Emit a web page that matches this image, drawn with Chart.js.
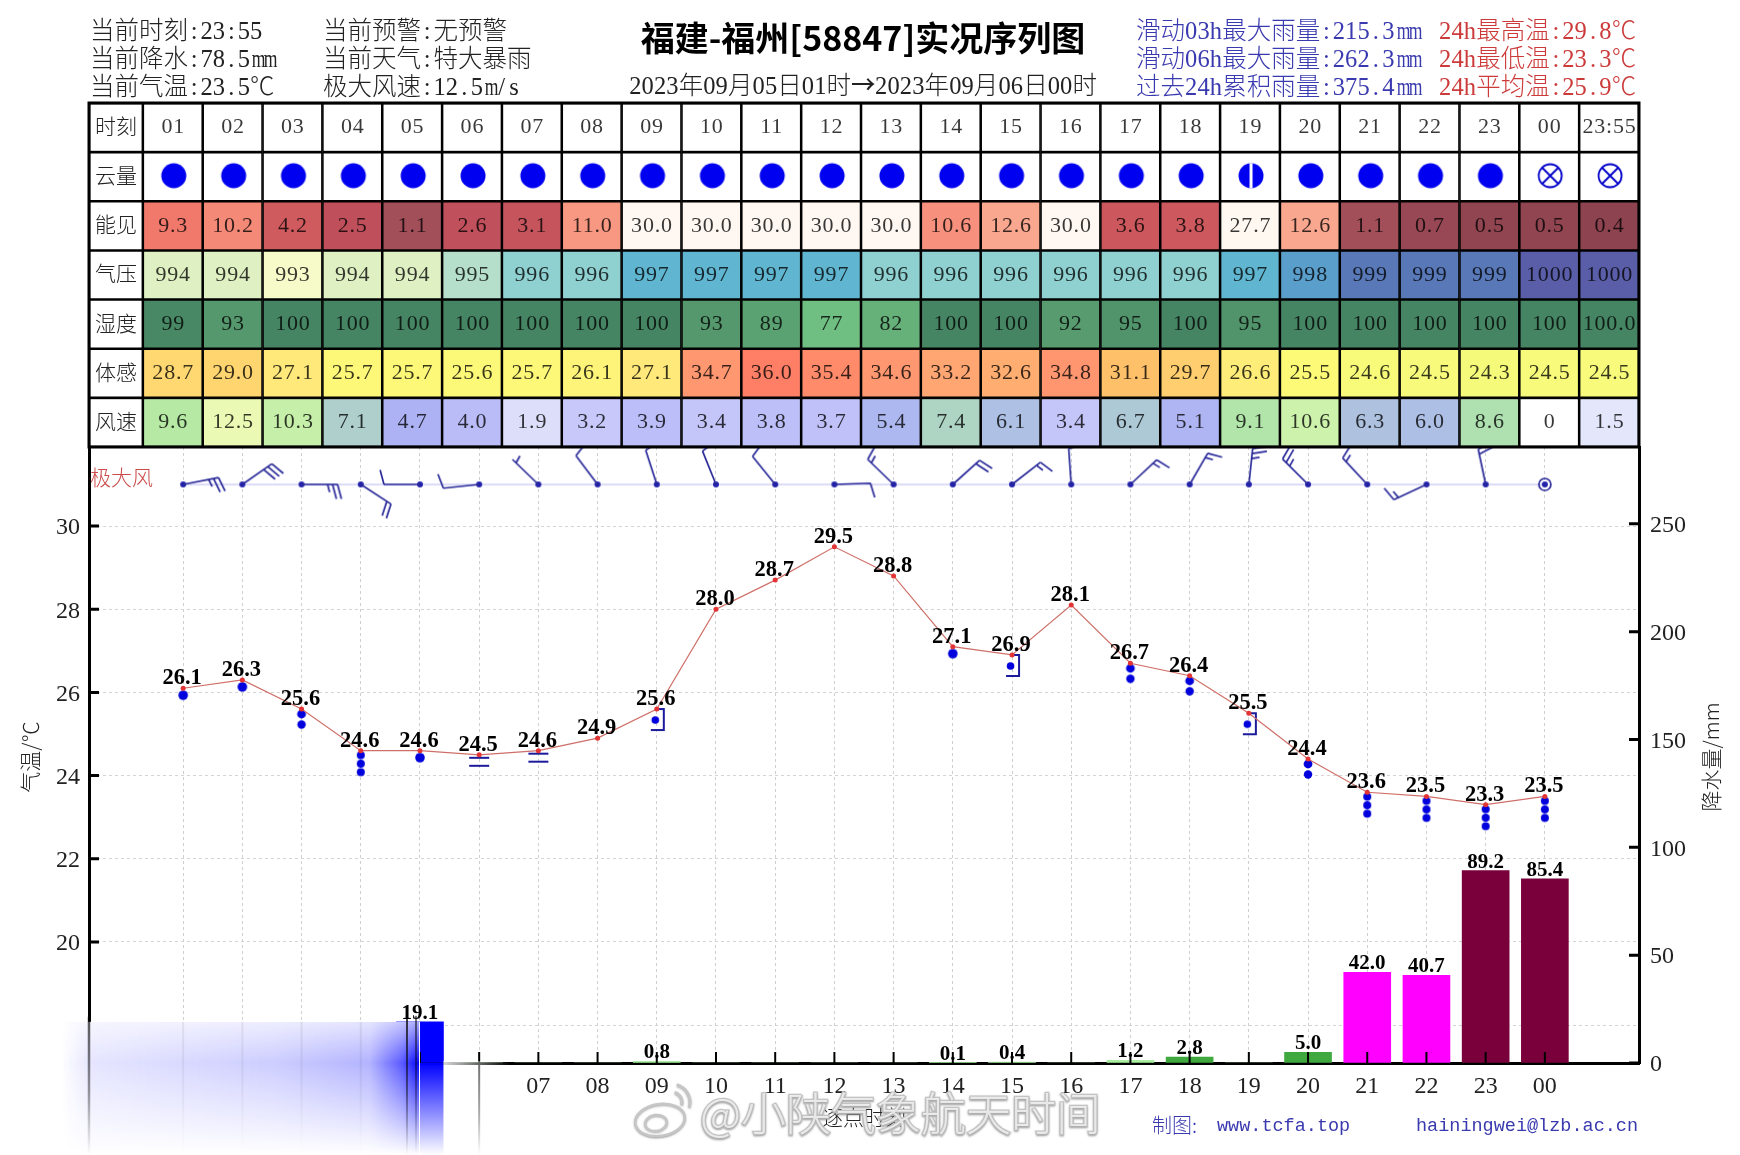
<!DOCTYPE html>
<html>
<head>
<meta charset="utf-8">
<title>福建-福州实况序列图</title>
<script src="https://cdn.jsdelivr.net/npm/chart.js@4"></script>
<style>
    html, body { margin: 0; padding: 0; background: #fff; }
    #page { position: relative; width: 1740px; height: 1155px; overflow: hidden; }
    #page canvas { position: absolute; left: 0; }
    #mainChart { top: 0; }
    #tableChart { top: 95px; }
    .head { position: absolute; white-space: nowrap; line-height: 30px; height: 30px;
            font-family: "Liberation Serif", "Noto Sans CJK SC"; font-size: 24.5px; font-weight: 300; }
    .head span { display: inline-block; width: 12.4px; text-align: center; }
    .head span.m { transform: scaleX(0.72); }
    .head span.arrow { width: 24px; font-family: "Noto Sans CJK SC"; font-weight: 500; }
</style>
</head>
<body>
<div id="page">
    <canvas id="mainChart" width="1740" height="1155"></canvas>
    <canvas id="tableChart" width="1740" height="360"></canvas>
</div>

<script>
// hourly chart
const hours = ['01','02','03','04','05','06','07','08','09','10','11','12','13','14','15','16','17','18','19','20','21','22','23','00'];
const tempValues = [26.1,26.3,25.6,24.6,24.6,24.5,24.6,24.9,25.6,28.0,28.7,29.5,28.8,27.1,26.9,28.1,26.7,26.4,25.5,24.4,23.6,23.5,23.3,23.5];
const rainValues = [0,0,0,0,19.1,0,0,0,0.8,0,0,0,0,0.1,0.4,0,1.2,2.8,0,5.0,42.0,40.7,89.2,85.4];
const weather = ['dot1','dot1','dot2','dot3','dot1','fog','fog','','shower','','','','','dot1','shower','','dot2','dot2','shower','dot2','dot3','dot3','dot3','dot3'];
const windDir = [79,55,90,123,270,264,314,323,342,338,321,88,314,48,52,356,47,30,6,315,317,245,348,null];

// table rows
const rowNames = ['时刻','云量','能见','气压','湿度','体感','风速'];
const timeRow = hours.concat(['23:55']);
const cloudRow = ['f','f','f','f','f','f','f','f','f','f','f','f','f','f','f','f','f','f','h','f','f','f','f','x','x'];
const visRow = ['9.3','10.2','4.2','2.5','1.1','2.6','3.1','11.0','30.0','30.0','30.0','30.0','30.0','10.6','12.6','30.0','3.6','3.8','27.7','12.6','1.1','0.7','0.5','0.5','0.4'];
const pressRow = ['994','994','993','994','994','995','996','996','997','997','997','997','996','996','996','996','996','996','997','998','999','999','999','1000','1000'];
const humRow = ['99','93','100','100','100','100','100','100','100','93','89','77','82','100','100','92','95','100','95','100','100','100','100','100','100.0'];
const feelRow = ['28.7','29.0','27.1','25.7','25.7','25.6','25.7','26.1','27.1','34.7','36.0','35.4','34.6','33.2','32.6','34.8','31.1','29.7','26.6','25.5','24.6','24.5','24.3','24.5','24.5'];
const windRow = ['9.6','12.5','10.3','7.1','4.7','4.0','1.9','3.2','3.9','3.4','3.8','3.7','5.4','7.4','6.1','3.4','6.7','5.1','9.1','10.6','6.3','6.0','8.6','0','1.5'];

// colour ramps for the table
const visStops = [[0.4,'#8e4350'],[1.1,'#a24f5a'],[2.5,'#bf4f5b'],[3.6,'#cc585e'],[4.2,'#d05b5f'],[9.3,'#f1796b'],[11,'#f99882'],[12.6,'#f9a78f'],[27.7,'#fff8f0'],[30,'#fff8f2']];
const pressStops = [[993,'#f6fbc9'],[994,'#dff0c2'],[995,'#b5dfca'],[996,'#8fd0d0'],[997,'#60b6d0'],[998,'#5a9ecb'],[999,'#5878b8'],[1000,'#5a5ea8']];
const humStops = [[77,'#6fbe82'],[82,'#66b07a'],[89,'#5ba273'],[93,'#55986d'],[100,'#468563']];
const feelStops = [[24.3,'#f6fa7a'],[25.5,'#fdfa78'],[27.1,'#ffe97a'],[29,'#ffd570'],[31.1,'#ffc06a'],[33.2,'#ffa672'],[34.8,'#ff9670'],[36,'#ff7f66']];
const windStops = [[0,'#ffffff'],[1.9,'#dddffa'],[3.2,'#c8c8fa'],[4.7,'#adb2f5'],[5.4,'#aeb8f0'],[6.3,'#aec2e0'],[7.4,'#aed4c4'],[8.6,'#aee0b0'],[9.6,'#b6eaa4'],[10.6,'#cdf2ac'],[12.5,'#eafab4']];

const serif = '"Liberation Serif"';
const cjk = '"Noto Sans CJK SC"';

const headLines = [
    ['当前时刻:23:55', 90, 31, '#222'], ['当前降水:78.5mm', 90, 59, '#222'], ['当前气温:23.5℃', 90, 87, '#222'],
    ['当前预警:无预警', 323, 31, '#222'], ['当前天气:特大暴雨', 323, 59, '#222'], ['极大风速:12.5m/s', 323, 87, '#222'],
    ['滑动03h最大雨量:215.3mm', 1136, 31, '#3a3ab0'], ['滑动06h最大雨量:262.3mm', 1136, 59, '#3a3ab0'], ['过去24h累积雨量:375.4mm', 1136, 87, '#3a3ab0'],
    ['24h最高温:29.8℃', 1439, 31, '#cc3a3a'], ['24h最低温:23.3℃', 1439, 59, '#cc3a3a'], ['24h平均温:25.9℃', 1439, 87, '#cc3a3a']
];

function hexToRgb(h) {
    return [parseInt(h.substr(1,2),16), parseInt(h.substr(3,2),16), parseInt(h.substr(5,2),16)];
}

function ramp(stops, v) {
    if (v <= stops[0][0]) return stops[0][1];
    for (let i = 1; i < stops.length; i++) {
        if (v <= stops[i][0]) {
            let t = (v - stops[i-1][0]) / (stops[i][0] - stops[i-1][0]);
            let a = hexToRgb(stops[i-1][1]), b = hexToRgb(stops[i][1]);
            return 'rgb(' + a.map((c, k) => Math.round(c + (b[k] - c) * t)).join(',') + ')';
        }
    }
    return stops[stops.length-1][1];
}

function rainColor(v) {
    if (v < 2) return '#a8f0a0';
    if (v < 10) return '#3fa93f';
    if (v < 25) return '#0000ff';
    if (v < 50) return '#ff00ff';
    return '#7a003c';
}

function newCanvas(w, h) {
    let c = document.createElement('canvas');
    c.width = w;
    c.height = h;
    return c;
}

// weather symbol, centred on the temperature point
function weatherImage(kind) {
    let c = newCanvas(50, 70);
    let g = c.getContext('2d');
    g.translate(25, 35);
    let dot = (x, y, r) => { g.fillStyle = '#0000dd'; g.beginPath(); g.arc(x, y, r, 0, Math.PI*2); g.fill(); };
    g.strokeStyle = '#1a1a9a';
    g.lineWidth = 2;
    if (kind === 'dot1') dot(0, 7, 4.8);
    if (kind === 'dot2') { dot(0, 5, 4.4); dot(0, 15.5, 4.2); }
    if (kind === 'dot3') { dot(0, 4.5, 4); dot(0, 13, 4); dot(0, 21.5, 4); }
    if (kind === 'fog') {
        g.beginPath();
        g.moveTo(-10, 3); g.lineTo(10, 3);
        g.moveTo(-10, 11); g.lineTo(10, 11);
        g.stroke();
    }
    if (kind === 'shower') {
        dot(-1.5, 11, 3.8);
        g.beginPath();
        g.moveTo(-1, 0); g.lineTo(7, 0); g.lineTo(7, 21); g.lineTo(-6, 21);
        g.stroke();
    }
    return c;
}

// wind barb : staff towards the wind direction, 4 m/s long barb, 2 m/s short one
function barbImage(dir, speed) {
    let c = newCanvas(120, 120);
    let g = c.getContext('2d');
    g.translate(60, 60);
    g.strokeStyle = '#2a2a9a';
    g.fillStyle = '#2222aa';
    g.lineWidth = 1.7;
    g.beginPath();
    g.arc(0, 0, 3, 0, Math.PI*2);
    g.fill();
    if (dir === null) {
        g.beginPath();
        g.arc(0, 0, 6, 0, Math.PI*2);
        g.stroke();
        return c;
    }
    let q = Math.round(speed / 2) * 2;
    let big = Math.floor(q / 4), small = (q % 4) / 2;
    g.rotate(dir * Math.PI / 180);
    g.beginPath();
    g.moveTo(0, 0);
    g.lineTo(0, -36);
    let y = -36;
    for (let i = 0; i < big + small; i++) {
        let len = i < big ? 15 : 8;
        if (big === 0) y += 5;
        g.moveTo(0, y);
        g.lineTo(len * Math.sin(75 * Math.PI / 180), y - len * Math.cos(75 * Math.PI / 180));
        y += 5;
    }
    g.stroke();
    return c;
}

function cloudImage(kind) {
    let c = newCanvas(30, 30);
    let g = c.getContext('2d');
    g.translate(15, 15);
    g.fillStyle = '#0000f0';
    g.strokeStyle = '#0000c8';
    if (kind === 'x') {
        g.lineWidth = 1.8;
        g.beginPath();
        g.arc(0, 0, 11.5, 0, Math.PI*2);
        g.moveTo(-8, -8); g.lineTo(8, 8);
        g.moveTo(8, -8); g.lineTo(-8, 8);
        g.stroke();
        return c;
    }
    g.beginPath();
    g.arc(0, 0, 12.5, 0, Math.PI*2);
    g.fill();
    if (kind === 'h') {
        g.fillStyle = '#fff';
        g.fillRect(-1.5, -12.5, 3, 25);
    }
    return c;
}

function spacedText(ctx, txt, x, y, spacing) {
    ctx.letterSpacing = spacing + 'px';
    ctx.fillText(txt, x + spacing / 2, y);
    ctx.letterSpacing = '0px';
}

// half width cell for every latin char, like the font of the original
function fillHead(div, txt) {
    for (let ch of txt) {
        if (ch === '→') {
            let s = document.createElement('span');
            s.className = 'arrow';
            s.textContent = ch;
            div.appendChild(s);
        } else if (ch.charCodeAt(0) < 128) {
            let s = document.createElement('span');
            if (ch === 'm') s.className = 'm';
            s.textContent = ch;
            div.appendChild(s);
        } else {
            div.appendChild(document.createTextNode(ch));
        }
    }
}

// head of the page
let page = document.getElementById('page');
headLines.forEach(function (l) {
    let d = document.createElement('div');
    d.className = 'head';
    fillHead(d, l[0]);
    d.style.left = l[1] + 'px';
    d.style.top = (l[2] - 15) + 'px';
    d.style.color = l[3];
    page.appendChild(d);
});
let title = document.createElement('div');
title.className = 'head';
title.textContent = '福建-福州[58847]实况序列图';
title.style.cssText = 'left:0;width:1726px;text-align:center;top:12px;height:36px;line-height:36px;font:bold 34px "Noto Sans CJK SC";color:#000';
page.appendChild(title);
let dates = document.createElement('div');
dates.className = 'head';
fillHead(dates, '2023年09月05日01时→2023年09月06日00时');
dates.style.cssText += 'left:0;width:1726px;text-align:center;top:69px;color:#222';
page.appendChild(dates);

// table : one floating bar per cell, one dataset per column
const tableRows = [timeRow, cloudRow, visRow, pressRow, humRow, feelRow, windRow];
const rowStops = [null, null, visStops, pressStops, humStops, feelStops, windStops];
const firstCol = 0.9;

function cellColor(r, c) {
    if (c === 0 || !rowStops[r]) return '#fff';
    return ramp(rowStops[r], parseFloat(tableRows[r][c-1]));
}

let tableSets = [''].concat(timeRow).map(function (label, c) {
    let from = c === 0 ? 0 : firstCol + c - 1;
    let to = firstCol + c;
    return {
        label: label,
        data: rowNames.map(() => [from, to]),
        backgroundColor: rowNames.map((n, r) => cellColor(r, c)),
        borderColor: '#000',
        borderWidth: 1.6,
        borderSkipped: false,
        barPercentage: 1,
        categoryPercentage: 1,
        grouped: false
    };
});
let cloudImages = cloudRow.map(cloudImage);

const tableTextPlugin = {
    id: 'tableText',
    afterDatasetsDraw(chart) {
        let ctx = chart.ctx;
        ctx.save();
        ctx.textAlign = 'center';
        ctx.textBaseline = 'middle';
        tableSets.forEach(function (set, c) {
            chart.getDatasetMeta(c).data.forEach(function (el, r) {
                let x = (el.x + el.base) / 2;
                let y = el.y;
                if (c === 0) {
                    ctx.font = '300 21px ' + cjk;
                    ctx.fillStyle = '#222';
                    ctx.fillText(rowNames[r], x, y - 1.5);
                } else if (r === 1) {
                    let img = cloudImages[c-1];
                    ctx.drawImage(img, x + 1 - img.width / 2, y - 1 - img.height / 2);
                } else {
                    ctx.font = '22px ' + serif;
                    ctx.fillStyle = 'rgba(0,0,0,0.78)';
                    spacedText(ctx, tableRows[r][c-1], x, y, 0.8);
                }
            });
        });
        let a = chart.chartArea;
        ctx.strokeStyle = '#000';
        ctx.lineWidth = 3;
        ctx.strokeRect(a.left, a.top, a.right - a.left, a.bottom - a.top);
        ctx.restore();
    }
};

new Chart(document.getElementById('tableChart'), {
    type: 'bar',
    data: { labels: rowNames, datasets: tableSets },
    options: {
        indexAxis: 'y',
        responsive: false,
        animation: false,
        events: [],
        layout: { padding: { left: 89, right: 101, top: 8, bottom: 8 } },
        plugins: { legend: { display: false }, tooltip: { enabled: false } },
        scales: {
            x: { type: 'linear', display: false, min: 0, max: firstCol + timeRow.length },
            y: { display: false }
        }
    },
    plugins: [tableTextPlugin]
});

// main chart
let weatherImages = weather.map(weatherImage);
let barbImages = windDir.map((d, i) => barbImage(d, parseFloat(windRow[i])));

const chartDecor = {
    id: 'chartDecor',
    afterDatasetsDraw(chart) {
        let ctx = chart.ctx;
        ctx.save();

        // temperature labels
        ctx.fillStyle = '#000';
        ctx.font = 'bold 22.5px ' + serif;
        ctx.textAlign = 'center';
        ctx.textBaseline = 'alphabetic';
        chart.getDatasetMeta(0).data.forEach(function (p, i) {
            ctx.fillText(tempValues[i].toFixed(1), p.x - 1, p.y - 4);
        });

        // rain labels
        ctx.font = 'bold 21px ' + serif;
        chart.getDatasetMeta(3).data.forEach(function (b, i) {
            if (rainValues[i] > 0) ctx.fillText(rainValues[i].toFixed(1), b.x, b.y - 3);
        });
        ctx.restore();
    },
    afterDraw(chart) {
        let ctx = chart.ctx;
        let a = chart.chartArea;
        let xs = chart.scales.x, yl = chart.scales.y, yr = chart.scales.y1;
        ctx.save();

        // inside ticks
        ctx.strokeStyle = '#000';
        ctx.lineWidth = 3;
        ctx.beginPath();
        yl.ticks.forEach(t => { let y = yl.getPixelForValue(t.value); ctx.moveTo(a.left, y); ctx.lineTo(a.left + 10, y); });
        yr.ticks.forEach(t => { let y = yr.getPixelForValue(t.value); ctx.moveTo(a.right, y); ctx.lineTo(a.right - 10, y); });
        ctx.stroke();
        ctx.lineWidth = 2;
        ctx.beginPath();
        xs.ticks.forEach(t => { let x = xs.getPixelForValue(t.value); ctx.moveTo(x, a.bottom); ctx.lineTo(x, a.bottom - 11); });
        ctx.stroke();

        // axis titles and small texts
        ctx.fillStyle = '#222';
        ctx.textAlign = 'center';
        ctx.textBaseline = 'middle';
        ctx.font = '300 21px ' + cjk;
        ctx.fillText('逐点时刻', (a.left + a.right) / 2, 1117);
        ctx.fillStyle = '#cc4a4a';
        ctx.textAlign = 'left';
        ctx.fillText('极大风', 90, yl.getPixelForValue(31) - 7);
        ctx.fillStyle = '#222';
        ctx.textAlign = 'center';
        ctx.save();
        ctx.translate(30, 757);
        ctx.rotate(-Math.PI / 2);
        ctx.fillText('气温/℃', 0, 0);
        ctx.restore();
        ctx.save();
        ctx.translate(1711, 757);
        ctx.rotate(-Math.PI / 2);
        ctx.fillText('降水量/mm', 0, 0);
        ctx.restore();

        ctx.textAlign = 'left';
        ctx.fillStyle = '#3a3ab0';
        ctx.font = '300 20px ' + cjk;
        ctx.fillText('制图:', 1152, 1125);
        ctx.font = '18.5px "Liberation Mono"';
        ctx.fillText('www.tcfa.top', 1217, 1126);
        ctx.fillText('hainingwei@lzb.ac.cn', 1416, 1126);

        drawWatermark(ctx);
        drawWash(chart);
        ctx.restore();
    }
};

function drawWatermark(ctx) {
    ctx.save();
    ctx.textAlign = 'left';
    ctx.textBaseline = 'middle';
    ctx.font = '300 45px ' + cjk;
    ctx.shadowColor = 'rgba(120,120,120,0.6)';
    ctx.shadowBlur = 2;
    ctx.shadowOffsetY = 1;
    ctx.strokeStyle = '#c6c6c6';
    ctx.fillStyle = 'rgba(255,255,255,0.72)';
    ctx.lineWidth = 2.5;
    ctx.strokeText('@小陕气象航天时间', 700, 1114);
    ctx.fillText('@小陕气象航天时间', 700, 1114);
    // logo
    ctx.beginPath();
    ctx.ellipse(660, 1120, 25, 16, -0.15, 0, Math.PI*2);
    ctx.fillStyle = '#fff';
    ctx.fill();
    ctx.stroke();
    ctx.beginPath();
    ctx.ellipse(656, 1123, 11, 8, -0.15, 0, Math.PI*2);
    ctx.stroke();
    ctx.lineWidth = 3;
    ctx.beginPath();
    ctx.arc(672, 1102, 10, -1.3, 0.3);
    ctx.stroke();
    ctx.beginPath();
    ctx.arc(672, 1102, 18, -1.3, 0.3);
    ctx.stroke();
    ctx.restore();
}

// the bottom left corner of the picture is smeared : white out, blue haze, vertical streaks
function drawWash(chart) {
    let ctx = chart.ctx;
    let a = chart.chartArea;
    let xs = chart.scales.x, yr = chart.scales.y1;
    let H = chart.height;
    let bar = chart.getDatasetMeta(3).data[4];
    let left = 61, mid = bar.x, right = bar.x + 23.5, fadeEnd = 510;
    let top = yr.getPixelForValue(19.1);
    let w = mid - left, h = H - top;

    ctx.fillStyle = '#fff';
    ctx.fillRect(left, top, w, h);
    ctx.fillRect(40, top - 20, a.left - 42, H - top + 20);
    ctx.fillRect(mid, a.bottom + 2, fadeEnd - mid, H - a.bottom);

    let off = newCanvas(w, h);
    let g = off.getContext('2d');
    let hor = g.createLinearGradient(0, 0, w, 0);
    hor.addColorStop(0, 'rgba(0,0,255,0)');
    hor.addColorStop(0.08, 'rgba(0,0,255,0.1)');
    hor.addColorStop(0.6, 'rgba(0,0,255,0.2)');
    hor.addColorStop(0.86, 'rgba(0,0,255,0.3)');
    hor.addColorStop(0.95, 'rgba(0,0,255,0.65)');
    hor.addColorStop(1, 'rgba(0,0,255,1)');
    g.fillStyle = hor;
    g.fillRect(0, 0, w, h);
    g.globalCompositeOperation = 'destination-in';
    let ver = g.createLinearGradient(0, 0, 0, h);
    ver.addColorStop(0, 'rgba(0,0,0,0.35)');
    ver.addColorStop((a.bottom - top) / h, 'rgba(0,0,0,1)');
    ver.addColorStop(0.62, 'rgba(0,0,0,0.55)');
    ver.addColorStop(1, 'rgba(0,0,0,0)');
    g.fillStyle = ver;
    g.fillRect(0, 0, w, h);
    ctx.drawImage(off, left, top);

    // rest of the bar below the axis
    let down = ctx.createLinearGradient(0, a.bottom, 0, H);
    down.addColorStop(0, 'rgba(0,0,255,1)');
    down.addColorStop(1, 'rgba(0,0,255,0)');
    ctx.fillStyle = down;
    ctx.fillRect(mid, a.bottom, right - mid, H - a.bottom);

    // axis running out on the right side of the bar
    let axisFade = ctx.createLinearGradient(right, 0, fadeEnd, 0);
    axisFade.addColorStop(0, 'rgba(255,255,255,0.85)');
    axisFade.addColorStop(1, 'rgba(255,255,255,0)');
    ctx.fillStyle = axisFade;
    ctx.fillRect(right, a.bottom - 2, fadeEnd - right, 4);

    // streaks
    let streak = function (x, y0, alpha, width) {
        let s = ctx.createLinearGradient(0, y0, 0, H);
        s.addColorStop(0, 'rgba(0,0,0,' + alpha + ')');
        s.addColorStop(0.55, 'rgba(0,0,0,' + alpha * 0.6 + ')');
        s.addColorStop(1, 'rgba(0,0,0,0)');
        ctx.fillStyle = s;
        ctx.fillRect(x - width / 2, y0, width, H - y0);
    };
    streak(a.left, top - 5, 0.65, 2.5);
    streak(xs.getPixelForValue(5), a.bottom + 2, 0.55, 2);
    streak(407, top - 6, 0.75, 2);
    streak(416, top - 6, 0.55, 2);
    [0, 1, 2, 3].forEach(i => streak(xs.getPixelForValue(i), top, 0.07, 2));
}

new Chart(document.getElementById('mainChart'), {
    data: {
        datasets: [
            {
                type: 'line',
                label: '气温',
                data: tempValues.map((y, x) => ({x, y})),
                yAxisID: 'y',
                borderColor: '#cf6f68',
                borderWidth: 1.2,
                pointRadius: 2.5,
                pointBackgroundColor: '#e23434',
                pointBorderWidth: 0,
                tension: 0
            },
            {
                type: 'line',
                label: '天气现象',
                data: tempValues.map((y, x) => ({x, y})),
                yAxisID: 'y',
                showLine: false,
                pointRadius: 5,
                pointStyle: ctx => weatherImages[ctx.dataIndex]
            },
            {
                type: 'line',
                label: '极大风',
                data: hours.map((h, x) => ({x, y: 31})),
                yAxisID: 'y',
                borderColor: '#dcdcf8',
                borderWidth: 2,
                pointRadius: 5,
                pointStyle: ctx => barbImages[ctx.dataIndex]
            },
            {
                type: 'bar',
                label: '降水量',
                data: rainValues.map((y, x) => ({x, y})),
                yAxisID: 'y1',
                backgroundColor: rainValues.map(rainColor),
                barThickness: 47
            }
        ]
    },
    options: {
        responsive: false,
        animation: false,
        events: [],
        layout: { padding: { top: 447 } },
        plugins: { legend: { display: false }, tooltip: { enabled: false } },
        scales: {
            x: {
                type: 'linear',
                offset: false,
                min: -1.59,
                max: 24.59,
                afterBuildTicks(axis) { axis.ticks = hours.map((h, i) => ({value: i})); },
                afterFit(s) { s.height = 92; },
                grid: { color: '#cfcfcf', lineWidth: 1, drawTicks: false, offset: false },
                border: { color: '#000', width: 3, dash: [3, 3] },
                ticks: {
                    autoSkip: false,
                    maxRotation: 0,
                    padding: 9,
                    color: '#222',
                    font: { family: 'Liberation Serif', size: 24 },
                    callback: v => hours[v]
                }
            },
            y: {
                position: 'left',
                min: 17.09,
                max: 31.9,
                afterFit(s) { s.width = 89; },
                grid: { color: '#d4d4d4', lineWidth: 1, drawTicks: false },
                border: { color: '#000', width: 3, dash: [3, 3] },
                ticks: {
                    stepSize: 2,
                    includeBounds: false,
                    padding: 9,
                    labelOffset: 2,
                    color: '#222',
                    font: { family: 'Liberation Serif', size: 24 },
                    callback: v => v
                }
            },
            y1: {
                position: 'right',
                min: 0,
                max: 285.6,
                afterFit(s) { s.width = 101; },
                grid: { drawOnChartArea: false, drawTicks: false },
                border: { color: '#000', width: 3 },
                ticks: {
                    stepSize: 50,
                    includeBounds: false,
                    padding: 11,
                    labelOffset: 2,
                    color: '#222',
                    font: { family: 'Liberation Serif', size: 24 },
                    callback: v => v
                }
            }
        }
    },
    plugins: [chartDecor]
});
</script>
</body>
</html>
